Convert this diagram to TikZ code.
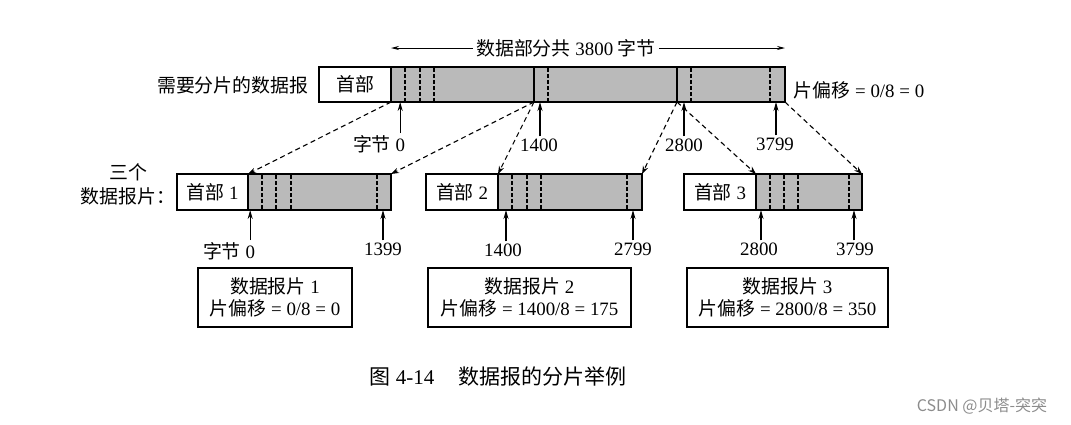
\documentclass[tikz,border=0pt]{standalone}
\usepackage{fontspec}
\setmainfont{Liberation Serif}[Scale=1.05]
\newfontfamily\cjk{Noto Sans CJK SC}[Scale=1.05]
\newfontfamily\wmfont{Noto Sans CJK SC}
\usetikzlibrary{arrows.meta,calc}
\begin{document}
\begin{tikzpicture}[x=1pt,y=-1pt,
  font=\fontsize{18}{22}\selectfont,
  boxpart/.style={draw, line width=1.3pt, outer sep=0pt, inner sep=0pt, anchor=north west},
  hdr/.style={boxpart, fill=white},
  dat/.style={boxpart, fill=black!27},
  sepline/.style={line width=1.4pt, dash pattern=on 3.5pt off 2.5pt},
  solidsep/.style={line width=1.2pt},
  conn/.style={line width=1.1pt, dash pattern=on 5pt off 3.5pt, -{Stealth[length=8pt,width=5.5pt]}},
  uparr/.style={line width=1.2pt, -{Stealth[length=9pt,width=5pt]}},
  toparr/.style={line width=0.9pt, -{Stealth[length=8pt,width=4pt]}},
  lbl/.style={inner sep=2pt},
  info/.style={draw, line width=1.3pt, align=center, minimum height=59pt, inner sep=2pt}
]
\useasboundingbox (0,0) rectangle (1071,424);

% ---- original datagram
\node[hdr, minimum width=72pt, minimum height=35pt] (h0) at (319,67) {{\cjk 首部}};
\node[dat, minimum width=394pt, minimum height=35pt] (d0) at (391,67) {};
\foreach \x in {405,420,434,548,691,770} \draw[sepline] (\x,68) -- (\x,101);
\coordinate (k1) at (534,102);
\coordinate (k2) at (677,102);
\draw[solidsep] (534,67) -- (k1);
\draw[solidsep] (677,67) -- (k2);

\node[anchor=east] (need) at (312,85) {\cjk 需要分片的数据报};
\node[anchor=west] (off0) at (790,90) {{\cjk 片偏移} = 0/8 = 0};
\node (total) at (566,48) {{\cjk 数据部分共} 3800 {\cjk 字节}};
\draw[toparr] (total.west) -- (total.west -| d0.north west);
\draw[toparr] (total.east) -- (total.east -| d0.north east);

% top byte labels
\node[lbl] (b0) at (379,144) {{\cjk 字节} 0};
\node[lbl] (b1400) at (539,145) {1400};
\node[lbl] (b2800) at (684,145) {2800};
\node[lbl] (b3799) at (775,144) {3799};
\coordinate (a0) at ([xshift=-7pt]b0.north east);
\coordinate (a1) at ([xshift=1pt]b1400.north);
\coordinate (a2) at (b2800.north);
\coordinate (a3) at ([xshift=1pt]b3799.north);
\foreach \a in {a0,a1,a2,a3} \draw[uparr] (\a) -- (\a |- d0.south);

% ---- fragments
\node[hdr, minimum width=71pt, minimum height=36pt] (h1) at (177,174) {{\cjk 首部} 1};
\node[dat, minimum width=143pt, minimum height=36pt] (d1) at (248,174) {};
\foreach \x in {262,276,291,377} \draw[sepline] (\x,175) -- (\x,209);

\node[hdr, minimum width=72pt, minimum height=36pt] (h2) at (426,174) {{\cjk 首部} 2};
\node[dat, minimum width=144pt, minimum height=36pt] (d2) at (498,174) {};
\foreach \x in {512,527,541,627} \draw[sepline] (\x,175) -- (\x,209);

\node[hdr, minimum width=72pt, minimum height=36pt] (h3) at (684,174) {{\cjk 首部} 3};
\node[dat, minimum width=106pt, minimum height=36pt] (d3) at (756,174) {};
\foreach \x in {770,784,798,849} \draw[sepline] (\x,175) -- (\x,209);

\node[align=center, font=\fontsize{18}{24}\selectfont] (three) at (128,184) {{\cjk 三个}\\{\cjk 数据报片：}};

% dashed mapping connectors
\draw[conn] (d0.south west) -- (d1.north west);
\draw[conn] (k1) -- (d1.north east);
\draw[conn] (k1) -- (d2.north west);
\draw[conn] (k2) -- (d2.north east);
\draw[conn] (k2) -- (d3.north west);
\draw[conn] (d0.south east) -- (d3.north east);

% bottom byte labels
\node[lbl] (c0) at (229,251) {{\cjk 字节} 0};
\node[lbl] (c1399) at (383,249) {1399};
\node[lbl] (c1400) at (503,250) {1400};
\node[lbl] (c2799) at (633,249) {2799};
\node[lbl] (c2800) at (759,249) {2800};
\node[lbl] (c3799) at (855,249) {3799};
\coordinate (e0) at ([xshift=-7pt]c0.north east);
\coordinate (e1) at (c1399.north);
\coordinate (e2) at ([xshift=3pt]c1400.north);
\coordinate (e3) at (c2799.north);
\coordinate (e4) at ([xshift=2pt]c2800.north);
\coordinate (e5) at ([xshift=-1pt]c3799.north);
\foreach \a in {e0,e1,e2,e3,e4,e5} \draw[uparr] (\a) -- (\a |- d1.south);

% info boxes
\node[info, minimum width=154pt] (i1) at (275,297.5) {{\cjk 数据报片} 1\\{\cjk 片偏移} = 0/8 = 0};
\node[info, minimum width=203pt] (i2) at (529.5,297.5) {{\cjk 数据报片} 2\\{\cjk 片偏移} = 1400/8 = 175};
\node[info, minimum width=201pt] (i3) at (787.5,297.5) {{\cjk 数据报片} 3\\{\cjk 片偏移} = 2800/8 = 350};

% caption
\node[font=\fontsize{20}{24}\selectfont] (cap) at (498,376) {{\cjk 图} 4-14\hspace{24pt}{\cjk 数据报的分片举例}};

% watermark
\node[font=\fontsize{16}{18}\selectfont, text=black!45] (wm) at (982,406) {\wmfont CSDN @贝塔-突突};
\end{tikzpicture}
\end{document}
